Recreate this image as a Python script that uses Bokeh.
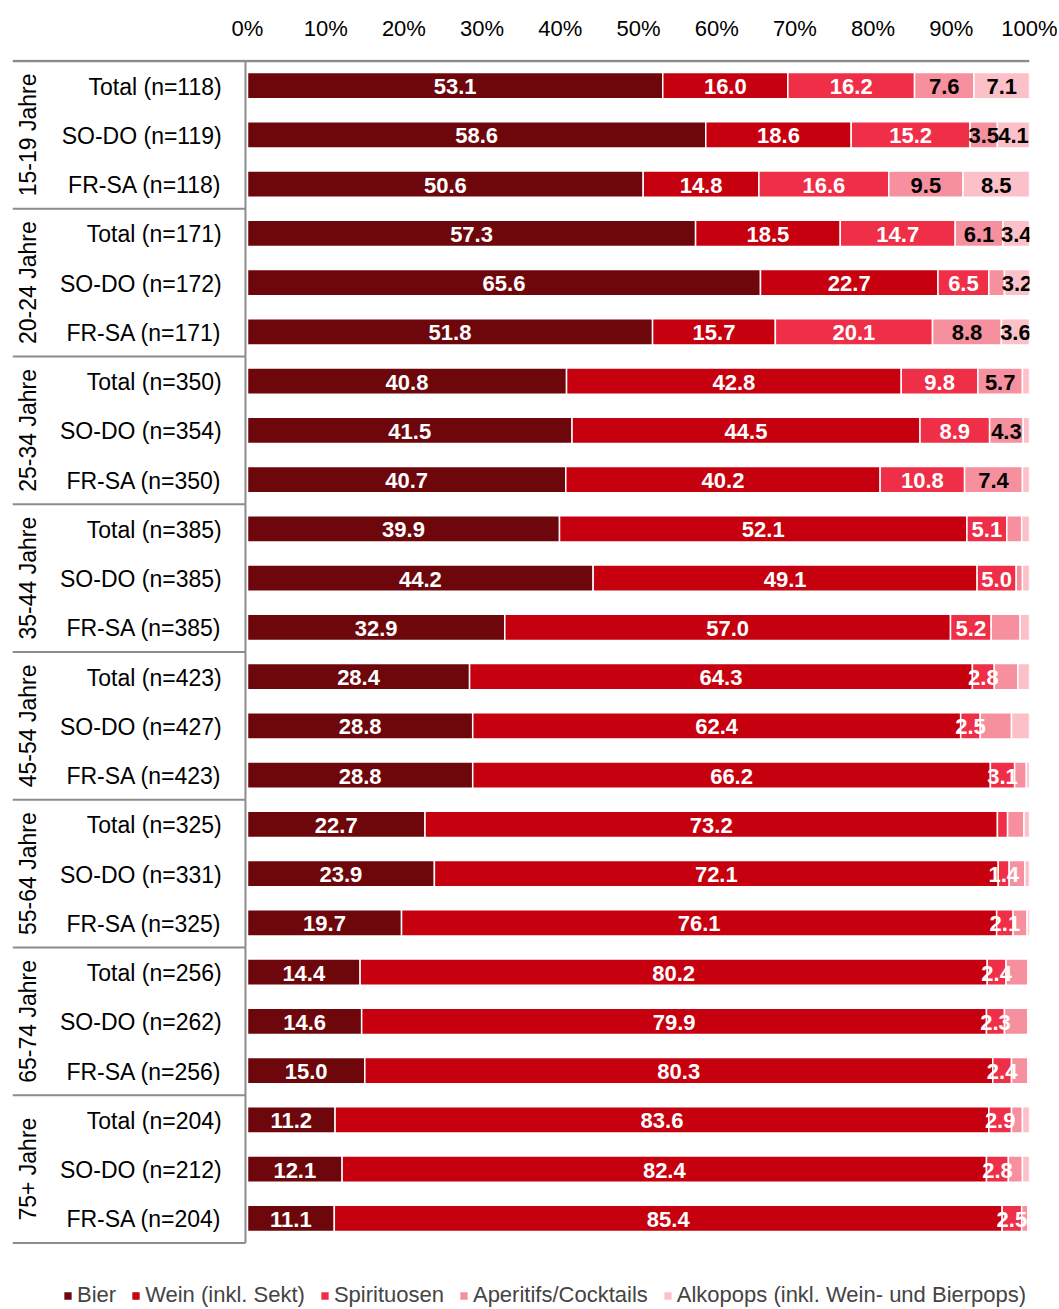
import numpy as np
from bokeh.plotting import figure
from bokeh.models import (ColumnDataSource, Range1d, FixedTicker, PrintfTickFormatter,
                          Legend, LegendItem, LinearAxis)
from bokeh.core.properties import value
from bokeh.embed import file_html
from bokeh.resources import INLINE

# ---------------- data ----------------
groups = ["15-19 Jahre", "20-24 Jahre", "25-34 Jahre", "35-44 Jahre",
          "45-54 Jahre", "55-64 Jahre", "65-74 Jahre", "75+ Jahre"]
subtypes = ["Total", "SO-DO", "FR-SA"]
n_values = [118, 119, 118, 171, 172, 171, 350, 354, 350, 385, 385, 385,
            423, 427, 423, 325, 331, 325, 256, 262, 256, 204, 212, 204]

series_names = ["Bier", "Wein (inkl. Sekt)", "Spirituosen", "Aperitifs/Cocktails",
                "Alkopops (inkl. Wein- und Bierpops)"]
bier = [53.1, 58.6, 50.6, 57.3, 65.6, 51.8, 40.8, 41.5, 40.7, 39.9, 44.2, 32.9,
        28.4, 28.8, 28.8, 22.7, 23.9, 19.7, 14.4, 14.6, 15.0, 11.2, 12.1, 11.1]
wein = [16.0, 18.6, 14.8, 18.5, 22.7, 15.7, 42.8, 44.5, 40.2, 52.1, 49.1, 57.0,
        64.3, 62.4, 66.2, 73.2, 72.1, 76.1, 80.2, 79.9, 80.3, 83.6, 82.4, 85.4]
spirituosen = [16.2, 15.2, 16.6, 14.7, 6.5, 20.1, 9.8, 8.9, 10.8, 5.1, 5.0, 5.2,
               2.8, 2.5, 3.1, 1.3, 1.4, 2.1, 2.4, 2.3, 2.4, 2.9, 2.8, 2.5]
aperitifs = [7.6, 3.5, 9.5, 6.1, 2.0, 8.8, 5.7, 4.3, 7.4, 1.9, 0.8, 3.7,
             3.0, 4.0, 1.5, 2.1, 2.0, 1.8, 2.8, 3.0, 2.1, 1.4, 1.8, 0.8]
alkopops = [7.1, 4.1, 8.5, 3.4, 3.2, 3.6, 0.9, 0.8, 0.9, 1.0, 0.9, 1.2,
            1.5, 2.3, 0.4, 0.7, 0.6, 0.3, 0.2, 0.2, 0.2, 0.9, 0.9, 0.2]
x_ticks = [0, 10, 20, 30, 40, 50, 60, 70, 80, 90, 100]

colors = ["#6E070C", "#C6000E", "#EF2E48", "#F7909E", "#FBC0C8"]
label_colors = ["white", "white", "white", "black", "black"]

FONT = "Liberation Sans"

# ---------------- layout ----------------
n_rows = len(n_values)
rows = np.arange(n_rows)
row_labels = [f"{subtypes[i % 3]} (n={n_values[i]})" for i in range(n_rows)]

keys = ["bier", "wein", "spirit", "aper", "alko"]
vals = [bier, wein, spirituosen, aperitifs, alkopops]
data = dict(y=rows)
for k, v in zip(keys, vals):
    data[k] = v
source = ColumnDataSource(data)

p = figure(width=1057, height=1308, output_backend="svg", toolbar_location=None,
           x_range=Range1d(-30.05, 100), y_range=Range1d(24.83, -0.53),
           x_axis_location=None, y_axis_location=None,
           min_border_left=12, min_border_right=28, min_border_top=59, min_border_bottom=0)
p.outline_line_color = None
p.grid.visible = False
p.background_fill_color = "white"

# top axis
ax = LinearAxis(ticker=FixedTicker(ticks=x_ticks), formatter=PrintfTickFormatter(format="%d%%"))
ax.axis_line_color = None
ax.major_tick_line_color = None
ax.minor_tick_line_color = None
ax.major_label_standoff = 13
ax.major_label_text_font = FONT
ax.major_label_text_font_size = "22px"
ax.major_label_text_color = "black"
p.add_layout(ax, "above")

# bars
renderers = p.hbar_stack(keys, y="y", height=0.53, color=colors, source=source,
                         line_color="white", line_width=1.5)

# labels
arr = np.array(vals)
cum = np.cumsum(arr, axis=0)
starts = cum - arr
for si in range(len(keys)):
    xs, ys, ts = [], [], []
    for r in range(n_rows):
        v = arr[si, r]
        if si < 3:
            show = v >= 1.4
        else:
            show = (r < 9) and v >= 3.0
        if show:
            xs.append(starts[si, r] + v / 2)
            ys.append(r)
            ts.append(f"{v:.1f}")
    p.text(x=xs, y=ys, text=ts, text_align="center", text_baseline="middle",
           text_font=value(FONT), text_font_style="bold", text_font_size="22px",
           text_color=label_colors[si], y_offset=1)

# structure lines
gray = "#8C8C8C"
x_left = -30.05
x_zero = -0.26
sep_y = [-0.5 + 3 * g for g in range(len(groups) + 1)]
p.segment(x0=[x_left], y0=[-0.5], x1=[100], y1=[-0.5], line_color=gray, line_width=2.5)
p.segment(x0=[x_left] * len(sep_y[1:]), y0=sep_y[1:], x1=[x_zero] * len(sep_y[1:]), y1=sep_y[1:],
          line_color=gray, line_width=2)
p.segment(x0=[x_zero], y0=[-0.5], x1=[x_zero], y1=[sep_y[-1]], line_color=gray, line_width=2)

# row labels
p.text(x=[-3.3] * n_rows, y=list(rows), text=row_labels, text_align="right",
       text_baseline="middle", text_font=value(FONT), text_font_size="23px",
       text_color="black", y_offset=1)

# group labels (rotated)
gy = [1 + 3 * g for g in range(len(groups))]
p.text(x=[-28.1] * len(groups), y=gy, text=groups, angle=np.pi / 2,
       text_align="center", text_baseline="middle", text_font=value(FONT),
       text_font_size="23px", text_color="black")

# legend
items = [LegendItem(label=name, renderers=[r]) for name, r in zip(series_names, renderers)]
legend = Legend(items=items, orientation="horizontal", location=(50, 0),
                padding=0, margin=0, spacing=14, label_standoff=4,
                glyph_width=11, glyph_height=11,
                label_text_font=FONT, label_text_font_size="22px",
                background_fill_alpha=0, border_line_color=None)
p.add_layout(legend)

open("out.html", "w").write(file_html(p, INLINE))
